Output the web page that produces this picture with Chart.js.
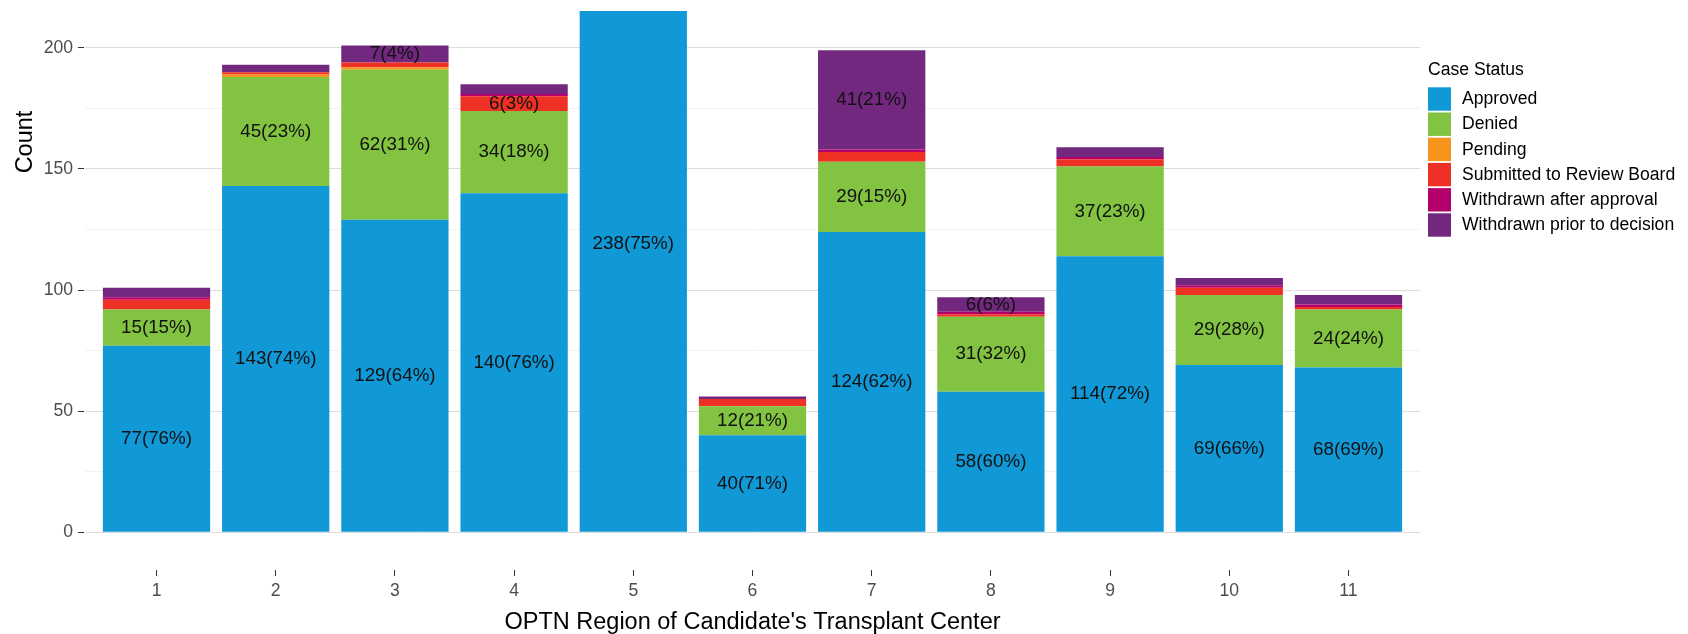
<!DOCTYPE html>
<html>
<head>
<meta charset="utf-8">
<script src="https://cdn.jsdelivr.net/npm/chart.js@4/dist/chart.umd.min.js"></script>
<style>
  html, body { margin: 0; padding: 0; background: #fff; }
  #wrap { position: relative; width: 1688px; height: 634px; }
</style>
</head>
<body>
<div id="wrap">
  <canvas id="myChart"></canvas>
</div>
<script type="text/javascript">
// OPTN regions 1..11, counts per case status
var regions = ['1', '2', '3', '4', '5', '6', '7', '8', '9', '10', '11'];

var approved          = [77, 143, 129, 140, 238, 40, 124, 58, 114, 69, 68];
var denied            = [15, 45, 62, 34, 68, 12, 29, 31, 37, 29, 24];
var pending           = [0, 1, 1, 0, 1, 0, 0, 0, 0, 0, 0];
var submitted         = [4, 1, 2, 6, 5, 3, 4, 1, 3, 3, 1];
var withdrawnAfter    = [1, 0, 0, 1, 1, 0, 1, 1, 1, 1, 1];
var withdrawnPrior    = [4, 3, 7, 4, 4, 1, 41, 6, 4, 3, 4];

// percentages printed on the bars (null = no label)
var approvedPct       = [76, 74, 64, 76, 75, 71, 62, 60, 72, 66, 69];
var deniedPct         = [15, 23, 31, 18, 21, 21, 15, 32, 23, 28, 24];
var submittedPct      = [null, null, null, 3, null, null, null, null, null, null, null];
var withdrawnPriorPct = [null, null, 4, null, null, null, 21, 6, null, null, null];

var yTicks = [0, 25, 50, 75, 100, 125, 150, 175, 200];

function pts(arr) {
  return arr.map((v, i) => ({ x: i + 1, y: v }));
}

function series(label, values, color, pct) {
  return {
    label: label,
    data: pts(values),
    backgroundColor: color,
    borderWidth: 0,
    barPercentage: 0.9,
    categoryPercentage: 1.0,
    pct: pct
  };
}

var FONT = '"Liberation Sans", Arial, sans-serif';

// numbers in the middle of each segment
var barLabels = {
  id: 'barLabels',
  afterDatasetsDraw(chart) {
    var ctx = chart.ctx;
    var area = chart.chartArea;
    ctx.save();
    ctx.font = '18.8px ' + FONT;
    ctx.fillStyle = '#111';
    ctx.textAlign = 'center';
    ctx.textBaseline = 'middle';
    chart.data.datasets.forEach((ds, di) => {
      if (!ds.pct) return;
      var meta = chart.getDatasetMeta(di);
      meta.data.forEach((bar, i) => {
        if (ds.pct[i] == null) return;
        var y = (bar.y + bar.base) / 2;
        if (y < area.top || y > area.bottom) return;
        ctx.fillText(ds.data[i].y + '(' + ds.pct[i] + '%)', bar.x, y);
      });
    });
    ctx.restore();
  }
};

// y title and legend drawn by hand (ggplot-like placement)
var extras = {
  id: 'extras',
  afterDraw(chart) {
    var ctx = chart.ctx;
    var area = chart.chartArea;
    ctx.save();
    ctx.fillStyle = '#000';
    ctx.font = '23.5px ' + FONT;
    ctx.textAlign = 'center';
    ctx.textBaseline = 'middle';
    ctx.translate(26, 142);
    ctx.rotate(-Math.PI / 2);
    ctx.fillText('Count', 0, 0);
    ctx.restore();

    ctx.save();
    var lx = area.right + 8;
    ctx.font = '17.6px ' + FONT;
    ctx.textAlign = 'left';
    ctx.textBaseline = 'middle';
    ctx.fillStyle = '#000';
    ctx.fillText('Case Status', lx, 70);
    chart.data.datasets.forEach((ds, i) => {
      var y = 87.3 + i * 25.2;
      ctx.fillStyle = ds.backgroundColor;
      ctx.fillRect(lx, y, 23, 23.4);
      ctx.fillStyle = '#000';
      ctx.fillText(ds.label, lx + 34, y + 12);
    });
    ctx.restore();
  }
};

var config = {
  type: 'bar',
  data: {
    datasets: [
      series('Approved', approved, '#1198d6', approvedPct),
      series('Denied', denied, '#82c341', deniedPct),
      series('Pending', pending, '#f7941d', null),
      series('Submitted to Review Board', submitted, '#ee3124', submittedPct),
      series('Withdrawn after approval', withdrawnAfter, '#b4006c', null),
      series('Withdrawn prior to decision', withdrawnPrior, '#72287f', withdrawnPriorPct)
    ]
  },
  options: {
    responsive: true,
    maintainAspectRatio: false,
    animation: false,
    layout: { padding: { top: 11, right: 268, bottom: 0, left: 0 } },
    plugins: {
      legend: { display: false },
      tooltip: { enabled: false }
    },
    scales: {
      x: {
        type: 'linear',
        stacked: true,
        offset: false,
        min: 0.4,
        max: 11.6,
        border: { display: false },
        afterBuildTicks: (scale) => { scale.ticks = regions.map((r, i) => ({ value: i + 1 })); },
        afterFit: (scale) => { scale.height = 77; scale.paddingLeft = 0; scale.paddingRight = 0; },
        grid: {
          offset: false,
          drawOnChartArea: false,
          drawTicks: true,
          tickLength: 20,
          tickColor: '#333',
          tickWidth: 1,
          tickBorderDash: [0, 13, 6, 40]
        },
        ticks: {
          color: '#4d4d4d',
          font: { family: FONT, size: 17.6 },
          padding: 4,
          autoSkip: false,
          maxRotation: 0,
          callback: (v) => regions[v - 1]
        },
        title: {
          display: true,
          text: "OPTN Region of Candidate's Transplant Center",
          color: '#000',
          font: { family: FONT, size: 23.5, lineHeight: 1 },
          padding: 0
        }
      },
      y: {
        stacked: true,
        min: -10.25,
        max: 215.25,
        border: { display: false },
        afterBuildTicks: (scale) => { scale.ticks = yTicks.map(v => ({ value: v })); },
        afterFit: (scale) => { scale.width = 85; scale.paddingTop = 0; scale.paddingBottom = 0; },
        grid: {
          color: (c) => c.tick && c.tick.value % 50 === 0 ? '#dcdcdc' : '#f2f2f2',
          lineWidth: 1,
          drawTicks: true,
          tickLength: 7,
          tickColor: (c) => c.tick && c.tick.value % 50 === 0 ? '#333' : 'rgba(0,0,0,0)',
          tickBorderDash: [6, 20]
        },
        ticks: {
          color: '#4d4d4d',
          font: { family: FONT, size: 17.6 },
          padding: 5,
          callback: (v) => v % 50 === 0 ? String(v) : ''
        }
      }
    }
  },
  plugins: [barLabels, extras]
};

var myChart = new Chart(document.getElementById('myChart'), config);
</script>
</body>
</html>
